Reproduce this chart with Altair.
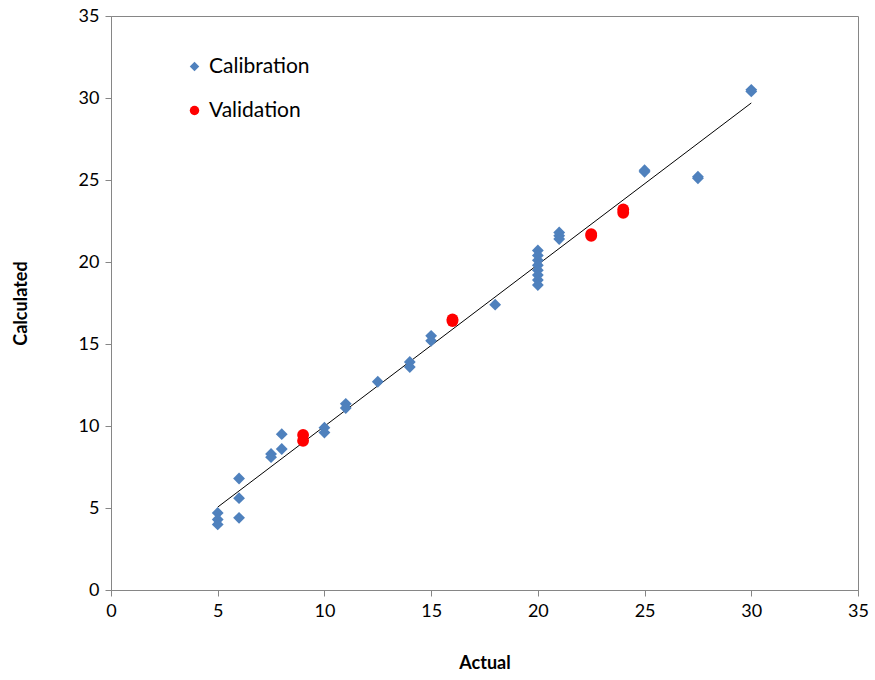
import altair as alt
import pandas as pd

# Calibration set: actual vs calculated
cal_actual = [5, 5, 5, 6, 6, 6, 7.5, 7.5, 8, 8, 10, 10, 11, 11, 12.5, 14, 14, 15, 15, 18,
              20, 20, 20, 20, 20, 20, 20, 20, 21, 21, 21, 25, 25, 27.5, 27.5, 30, 30]
cal_calc = [4.7, 4.3, 4.0, 6.8, 5.6, 4.4, 8.3, 8.1, 9.5, 8.6, 9.9, 9.6, 11.35, 11.1, 12.7,
            13.9, 13.6, 15.5, 15.2, 17.4,
            20.7, 20.4, 20.1, 19.8, 19.5, 19.2, 18.9, 18.6, 21.8, 21.6, 21.4,
            25.6, 25.5, 25.2, 25.1, 30.5, 30.4]

# Validation set
val_actual = [9, 9, 16, 16, 22.5, 22.5, 24, 24]
val_calc = [9.45, 9.1, 16.5, 16.4, 21.7, 21.6, 23.2, 23.0]

series = ["Calibration", "Validation"]
colors = ["#4F81BD", "#FF0000"]
shapes = ["diamond", "circle"]

df = pd.concat([
    pd.DataFrame({"Actual": cal_actual, "Calculated": cal_calc, "series": series[0]}),
    pd.DataFrame({"Actual": val_actual, "Calculated": val_calc, "series": series[1]}),
], ignore_index=True)

FONT = "Lato"
AXIS_GRAY = "#868686"

x_scale = alt.Scale(domain=[0, 35], nice=False, zero=False)
y_scale = alt.Scale(domain=[0, 35], nice=False, zero=False)

x_axis = alt.Axis(values=list(range(0, 36, 5)), title="Actual", grid=False,
                  titleFontWeight="bold", titleFontSize=18, titlePadding=34)
y_axis = alt.Axis(values=list(range(0, 36, 5)), title="Calculated", grid=False,
                  titleFontWeight="bold", titleFontSize=18, titlePadding=48)

points = alt.Chart(df).mark_point(filled=True, opacity=1, size=140).encode(
    x=alt.X("Actual:Q", scale=x_scale, axis=x_axis),
    y=alt.Y("Calculated:Q", scale=y_scale, axis=y_axis),
    color=alt.Color("series:N", scale=alt.Scale(domain=series, range=colors),
                    legend=alt.Legend(title=None, orient="none", legendX=73, legendY=40,
                                      labelFontSize=21, symbolSize=90, rowPadding=22,
                                      labelOffset=4, labelFont=FONT)),
    shape=alt.Shape("series:N", scale=alt.Scale(domain=series, range=shapes)),
)

trend = alt.Chart(df).transform_filter(
    alt.datum.series == series[0]
).transform_regression("Actual", "Calculated").mark_line(
    color="black", strokeWidth=1
).encode(
    x=alt.X("Actual:Q", scale=x_scale),
    y=alt.Y("Calculated:Q", scale=y_scale),
)

chart = alt.layer(trend, points).properties(
    width=747, height=574,
    background="white",
    autosize=alt.AutoSizeParams(type="none"),
    padding={"left": 111, "top": 16, "right": 17, "bottom": 90},
).configure_view(
    stroke=AXIS_GRAY, strokeWidth=1
).configure_axis(
    labelFont=FONT, titleFont=FONT, labelFontSize=18, labelColor="black",
    titleColor="black", domainColor=AXIS_GRAY, tickColor=AXIS_GRAY,
    tickSize=6, labelPadding=6, labelFlush=False
)

chart.save("out.html", embed_options={"renderer": "svg", "actions": False})
